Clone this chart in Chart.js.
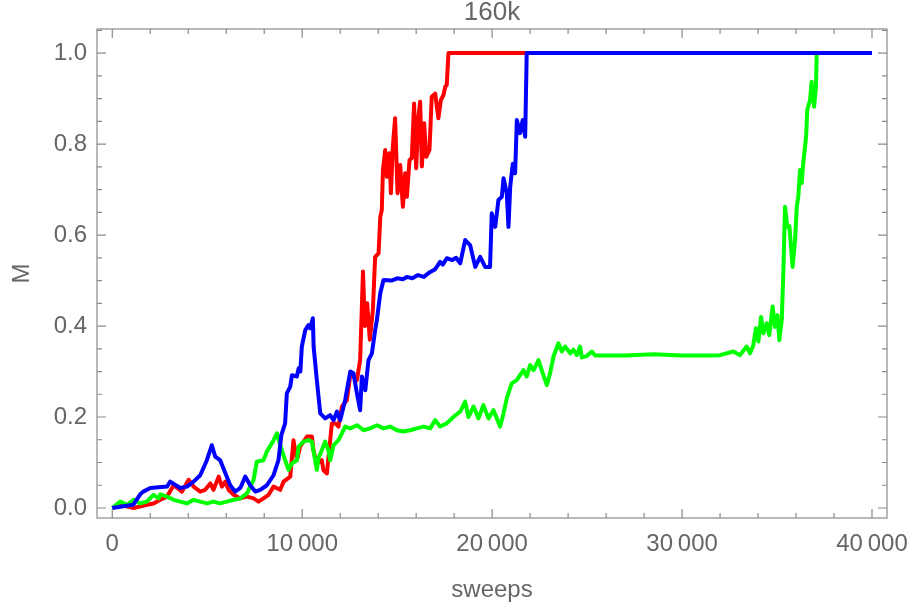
<!DOCTYPE html>
<html>
<head>
<meta charset="utf-8">
<title>160k</title>
<script src="https://cdn.jsdelivr.net/npm/chart.js@4.4.1/dist/chart.umd.min.js"></script>
<style>
  body { margin: 0; background: #fff; }
  #box { width: 909px; height: 611px; }
</style>
</head>
<body>
<div id="box"><canvas id="sweepChart" width="909" height="611"></canvas></div>
<script>
// tick labels
var xTicks = [0, 10000, 20000, 30000, 40000];
var yTicks = [0, 0.2, 0.4, 0.6, 0.8, 1.0];

// red run
var redSweeps = [0, 420, 1120, 1820, 2170, 2530, 2880, 3230, 3670, 4020, 4280, 4630, 4890, 5160, 5330, 5600, 5770, 5950, 6120, 6390,
  6740, 7090, 7440, 7700, 7960, 8230, 8490, 8840, 9020, 9370, 9540, 9720, 9890, 10250, 10510, 10600, 10770, 11030, 11120, 11300,
  11440, 11560, 11740, 11910, 12090, 12350, 12530, 12700, 12880, 13050, 13200, 13300, 13420, 13560, 13720, 13840, 14020, 14110, 14190, 14250,
  14370, 14460, 14590, 14670, 14770, 14890, 15020, 15160, 15300, 15420, 15510, 15650, 15770, 15890, 16000, 16120, 16210, 16300, 16420, 16530,
  16700, 16820, 17000, 17170, 17300, 17440, 17530, 17610, 17700, 40000];
var redM = [0, 0.007, 0.0, 0.007, 0.01, 0.018, 0.025, 0.05, 0.036, 0.062, 0.047, 0.036, 0.04, 0.054, 0.04, 0.069, 0.047, 0.058, 0.04, 0.029,
  0.021, 0.025, 0.021, 0.014, 0.021, 0.029, 0.047, 0.04, 0.058, 0.069, 0.149, 0.105, 0.135, 0.157, 0.157, 0.125, 0.098, 0.105, 0.083, 0.076,
  0.135, 0.186, 0.186, 0.179, 0.223, 0.237, 0.292, 0.289, 0.281, 0.325, 0.52, 0.40, 0.45, 0.37, 0.435, 0.552, 0.56, 0.64, 0.655, 0.743,
  0.787, 0.728, 0.78, 0.692, 0.794, 0.857, 0.692, 0.754, 0.662, 0.736, 0.684, 0.765, 0.769, 0.889, 0.747, 0.86, 0.893, 0.751, 0.846, 0.772,
  0.787, 0.904, 0.911, 0.857, 0.897, 0.908, 0.926, 0.93, 1.0, 1.0];

// green run
var greenSweeps = [0, 420, 770, 1120, 1470, 1820, 2170, 2440, 2530, 2880, 3230, 3580, 3930, 4280, 4630, 4980, 5330, 5680, 6030, 6390,
  6740, 7090, 7440, 7610, 7960, 8140, 8490, 8670, 8840, 9100, 9280, 9460, 9720, 9810, 10070, 10330, 10510, 10600, 10770, 10860,
  11030, 11210, 11380, 11470, 11650, 11910, 12090, 12260, 12530, 12880, 13230, 13580, 13930, 14280, 14630, 14980, 15330, 15680, 16040, 16390,
  16740, 17000, 17260, 17610, 17960, 18320, 18580, 18750, 19020, 19280, 19540, 19810, 20070, 20420, 20600, 20770, 21030, 21300, 21470, 21650,
  21820, 22000, 22180, 22440, 22610, 22880, 23050, 23230, 23490, 23670, 23840, 24110, 24280, 24460, 24630, 24720, 24980, 25250, 25420, 27000,
  28500, 30000, 31500, 32000, 32700, 33050, 33400, 33580, 33750, 33890, 34020, 34160, 34280, 34460, 34590, 34770, 34890, 35020, 35120, 35250,
  35330, 35420, 35540, 35650, 35820, 35950, 36040, 36120, 36210, 36300, 36380, 36530, 36590, 36740, 36820, 36950, 37050, 37090, 40000];
var greenM = [0, 0.014, 0.007, 0.018, 0.01, 0.014, 0.029, 0.021, 0.03, 0.025, 0.018, 0.014, 0.01, 0.018, 0.014, 0.01, 0.014, 0.01, 0.014, 0.018,
  0.021, 0.032, 0.062, 0.102, 0.105, 0.124, 0.149, 0.164, 0.138, 0.105, 0.084, 0.098, 0.105, 0.135, 0.146, 0.149, 0.146, 0.124, 0.084, 0.11,
  0.127, 0.146, 0.127, 0.105, 0.138, 0.149, 0.164, 0.179, 0.175, 0.182, 0.171, 0.175, 0.182, 0.175, 0.179, 0.171, 0.168, 0.171, 0.175, 0.179,
  0.175, 0.193, 0.179, 0.186, 0.20, 0.212, 0.234, 0.20, 0.223, 0.197, 0.226, 0.197, 0.215, 0.179, 0.208, 0.241, 0.274, 0.281, 0.292, 0.303,
  0.289, 0.314, 0.303, 0.325, 0.303, 0.27, 0.296, 0.333, 0.362, 0.344, 0.355, 0.34, 0.348, 0.336, 0.355, 0.331, 0.334, 0.344, 0.335, 0.335,
  0.338, 0.335, 0.335, 0.336, 0.344, 0.336, 0.355, 0.34, 0.358, 0.395, 0.366, 0.42, 0.384, 0.406, 0.38, 0.443, 0.398, 0.424, 0.369, 0.413,
  0.516, 0.662, 0.618, 0.62, 0.53, 0.589, 0.662, 0.684, 0.743, 0.714, 0.758, 0.816, 0.875, 0.897, 0.937, 0.882, 0.926, 1.0, 1.0];

// blue run
var blueSweeps = [0, 1100, 1470, 1630, 2000, 2880, 3050, 3580, 3930, 4280, 4630, 4980, 5240, 5420, 5680, 5950, 6210, 6470, 6740, 7000,
  7260, 7530, 7790, 8140, 8490, 8750, 8900, 9100, 9190, 9370, 9460, 9720, 9810, 9900, 9980, 10160, 10330, 10420, 10560, 10600,
  10770, 10950, 11210, 11470, 11650, 11830, 12000, 12260, 12530, 12700, 12880, 13050, 13140, 13320, 13490, 13670, 13840, 13930, 14110, 14280,
  14700, 15000, 15300, 15510, 15800, 16100, 16400, 16740, 17000, 17260, 17400, 17610, 17900, 18100, 18320, 18580, 18840, 19110, 19370, 19630,
  19890, 19980, 20160, 20250, 20330, 20510, 20600, 20770, 20860, 20950, 21090, 21210, 21300, 21470, 21610, 21740, 21820, 40000];
var blueM = [0, 0.007, 0.03, 0.036, 0.044, 0.047, 0.058, 0.044, 0.047, 0.058, 0.072, 0.105, 0.138, 0.113, 0.105, 0.077, 0.05, 0.036, 0.044, 0.069,
  0.05, 0.036, 0.04, 0.05, 0.072, 0.105, 0.16, 0.186, 0.252, 0.267, 0.292, 0.289, 0.307, 0.30, 0.355, 0.391, 0.402, 0.395, 0.417, 0.355,
  0.281, 0.208, 0.197, 0.204, 0.193, 0.212, 0.193, 0.237, 0.30, 0.296, 0.252, 0.215, 0.289, 0.259, 0.325, 0.34, 0.391, 0.413, 0.472, 0.501,
  0.50, 0.505, 0.503, 0.508, 0.505, 0.512, 0.508, 0.519, 0.525, 0.541, 0.535, 0.549, 0.545, 0.55, 0.538, 0.589, 0.578, 0.53, 0.552, 0.53,
  0.53, 0.648, 0.618, 0.648, 0.677, 0.684, 0.725, 0.692, 0.618, 0.706, 0.757, 0.736, 0.853, 0.824, 0.853, 0.816, 1.0, 1.0];

var textColor = '#666666';
var frameColor = '#8a8a8a';
var fontFamily = '"Liberation Sans", Arial, sans-serif';
var baseFont = { family: fontFamily, size: 24 };

function points(xs, ys) {
  return xs.map(function (x, i) { return { x: x, y: ys[i] }; });
}

function sweepLabel(v) {
  return String(v).replace(/(\d)(?=(\d{3})+$)/g, '$1\u2009');
}

// Mathematica style frame with inward ticks on all four sides
var frameTicks = {
  id: 'frameTicks',
  afterDatasetsDraw: function (chart) {
    var ctx = chart.ctx;
    var a = chart.chartArea;
    var xs = chart.scales.x;
    var ys = chart.scales.y;
    ctx.save();
    ctx.strokeStyle = frameColor;
    ctx.lineWidth = 1.2;
    ctx.strokeRect(a.left, a.top, a.right - a.left, a.bottom - a.top);
    ctx.beginPath();
    for (var v = 0; v <= 40000; v += 2000) {
      var px = xs.getPixelForValue(v);
      var len = v % 10000 === 0 ? 9 : 5;
      ctx.moveTo(px, a.bottom);
      ctx.lineTo(px, a.bottom - len);
      ctx.moveTo(px, a.top);
      ctx.lineTo(px, a.top + len);
    }
    for (var i = 0; i <= 21; i++) {
      var py = ys.getPixelForValue(i * 0.05);
      var l = i % 4 === 0 ? 9 : 5;
      ctx.moveTo(a.left, py);
      ctx.lineTo(a.left + l, py);
      ctx.moveTo(a.right, py);
      ctx.lineTo(a.right - l, py);
    }
    ctx.stroke();
    ctx.restore();
  }
};

var ctx = document.getElementById('sweepChart').getContext('2d');
var sweepChart = new Chart(ctx, {
  type: 'line',
  data: {
    datasets: [
      { label: 'run 1', data: points(redSweeps, redM), borderColor: '#ff0000', order: 3 },
      { label: 'run 2', data: points(greenSweeps, greenM), borderColor: '#00ff00', order: 2 },
      { label: 'run 3', data: points(blueSweeps, blueM), borderColor: '#0000ff', order: 1 }
    ]
  },
  options: {
    responsive: false,
    animation: false,
    layout: { padding: { left: 0, right: 22, top: 0, bottom: 0 } },
    elements: {
      point: { radius: 0 },
      line: { borderWidth: 4, tension: 0, borderJoinStyle: 'round', fill: false }
    },
    plugins: {
      legend: { display: false },
      tooltip: { enabled: false },
      title: {
        display: true,
        fullSize: false,
        text: '160k',
        color: textColor,
        font: { family: fontFamily, size: 26, weight: 'normal', lineHeight: 1 },
        padding: { top: 0, bottom: 3 }
      }
    },
    scales: {
      x: {
        type: 'linear',
        min: -805,
        max: 40790,
        grid: { display: false, drawTicks: false },
        border: { display: false },
        afterBuildTicks: function (s) { s.ticks = xTicks.map(function (v) { return { value: v }; }); },
        afterFit: function (s) { s.height = 93; s.paddingLeft = 0; s.paddingRight = 0; },
        ticks: {
          color: textColor,
          font: baseFont,
          padding: 12,
          maxRotation: 0,
          callback: function (v) { return sweepLabel(v); }
        },
        title: { display: true, text: 'sweeps', color: textColor, font: baseFont, padding: { top: 0, bottom: 6 } }
      },
      y: {
        type: 'linear',
        min: -0.022,
        max: 1.053,
        grid: { display: false, drawTicks: false },
        border: { display: false },
        afterBuildTicks: function (s) { s.ticks = yTicks.map(function (v) { return { value: v }; }); },
        afterFit: function (s) { s.width = 97; s.paddingTop = 0; s.paddingBottom = 0; },
        ticks: {
          color: textColor,
          font: baseFont,
          padding: 10,
          callback: function (v) { return v.toFixed(1); }
        },
        title: { display: true, text: 'M', color: textColor, font: baseFont, padding: { top: 8, bottom: 0 } }
      }
    }
  },
  plugins: [frameTicks]
});
</script>
</body>
</html>
